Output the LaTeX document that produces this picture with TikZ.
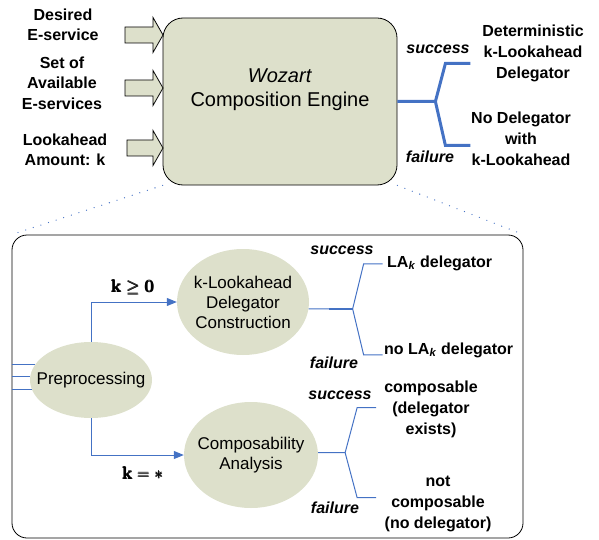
\documentclass[tikz,border=0pt]{standalone}
\usepackage{amsmath}
\usepackage[no-math]{fontspec}
\setmainfont{Liberation Sans}
\usetikzlibrary{shapes.geometric}
\usetikzlibrary{arrows.meta}
\definecolor{sage}{RGB}{221,224,203}
\definecolor{linkblue}{RGB}{68,114,196}
\tikzstyle{engine} = [draw=black, fill=sage, rounded corners=20pt, line width=0.8pt, inner sep=0pt]
\tikzstyle{frame} = [draw=black, rounded corners=15pt, line width=0.8pt, inner sep=0pt]
\tikzstyle{feedarrow} = [draw=black, fill=sage, line width=0.8pt]
\tikzstyle{phase} = [ellipse, fill=sage, align=center, inner ysep=0pt, inner xsep=-15pt, font=\fontsize{17}{20}\selectfont]
\tikzstyle{inlabel} = [align=center, font=\fontsize{16}{20.5}\selectfont\bfseries]
\tikzstyle{outcome} = [align=center, font=\fontsize{16}{21}\selectfont\bfseries]
\tikzstyle{verdict} = [font=\fontsize{16}{18}\selectfont\bfseries\itshape]
\tikzstyle{bigfork} = [draw=linkblue, line width=3pt]
\tikzstyle{smallfork} = [draw=linkblue, line width=1pt]
\tikzstyle{flow} = [draw=linkblue, line width=1pt, -{Triangle[length=10pt,width=8pt]}]
\tikzstyle{zoomline} = [draw=linkblue, line width=1.3pt, line cap=round, dash pattern=on 0pt off 8pt]
\tikzstyle{klabel} = [font=\fontsize{18}{20}\selectfont]
% block arrow into the engine: tail x, centre y
\newcommand{\feed}[2]{\draw[feedarrow] (#1,#2-8) -- (153,#2-8) -- (153,#2-17.5) -- (163,#2) -- (153,#2+17.5) -- (153,#2+8) -- (#1,#2+8) -- cycle;}

\begin{document}
\begin{tikzpicture}[x=1pt, y=-1pt]
	\useasboundingbox (0,0) rectangle (599,540);

	% upper part
	\node[engine, minimum width=234, minimum height=167] (engine) at (280,101.5) {};
	\node[font=\fontsize{20}{24}\selectfont, align=center] (title) at (280,90) {\textit{Wozart}\\Composition Engine};
	\feed{125}{35}
	\feed{125}{88}
	\feed{127}{148}
	\node[inlabel] (desired) at (63,25) {Desired\\E-service};
	\node[inlabel] (avail) at (62,83) {Set of\\Available\\E-services};
	\node[inlabel] (amount) at (65,150) {Lookahead\\Amount: k};

	\draw[bigfork] (engine.east) -- ++(38,0) coordinate (ej) -- ++(10,-38) -- ++(25,0);
	\draw[bigfork] (ej) -- ++(10,44) -- ++(25,0);
	\node[verdict] (succ) at (438,49) {success};
	\node[verdict] (fail) at (430,157) {failure};
	\node[outcome] (det) at (533,53) {Deterministic\\k-Lookahead\\Delegator};
	\node[outcome] (nodel) at (521,139) {No Delegator\\with\\k-Lookahead};

	% lower part
	\node[frame, minimum width=511, minimum height=303] (lower) at (267.5,386.5) {};
	\draw[zoomline] (engine.south west) -- (lower.north west);
	\draw[zoomline] (engine.south east) -- (lower.north east);

	\node[phase, minimum width=122, minimum height=76] (pre) at (91,380) {Preprocessing};
	\node[phase, minimum width=132, minimum height=106] (kla) at (243,302) {k-Lookahead\\Delegator\\Construction};
	\node[phase, minimum width=134, minimum height=106] (com) at (251,455) {Composability\\Analysis};

	\draw[smallfork] (pre.165 -| lower.west) -- (pre.165);
	\draw[smallfork] (pre.177 -| lower.west) -- (pre.177);
	\draw[smallfork] (pre.189 -| lower.west) -- (pre.189);

	\draw[flow] (pre.north) |- (kla.west);
	\draw[flow] (pre.south) |- (com.west);
	\node[klabel] (kpos) at (133,287) {$\pmb{\mathbf{k}\geq\mathbf{0}}$};
	\node[klabel] (kstar) at (143,473) {$\pmb{\mathbf{k}=*}$};

	\draw[smallfork] (kla.-6) -- ++(44,0) coordinate (j1) -- ++(11,-45) -- ++(19,0);
	\draw[smallfork] (j1) -- ++(11,46) -- ++(19,0);
	\draw[smallfork, line width=2pt] (j1) -- ++(-24,0);
	\draw[smallfork] (com.2) -- ++(27,0) coordinate (j2) -- ++(12,-45) -- ++(19,0);
	\draw[smallfork] (j2) -- ++(12,45) -- ++(19,0);

	\node[verdict] (s1) at (342,250) {success};
	\node[verdict] (f1) at (334,363) {failure};
	\node[verdict] (s2) at (340,395) {success};
	\node[verdict] (f2) at (335,508) {failure};
	\node[outcome, anchor=west, inner sep=0pt] (la) at (387,263) {LA\textsubscript{\textit{k}} delegator};
	\node[outcome, anchor=west, inner sep=0pt] (nola) at (384,350) {no LA\textsubscript{\textit{k}} delegator};
	\node[outcome] (comp) at (431,409) {composable\\(delegator\\exists)};
	\node[outcome] (notcomp) at (438,504) {not\\composable\\(no delegator)};
\end{tikzpicture}
\end{document}
